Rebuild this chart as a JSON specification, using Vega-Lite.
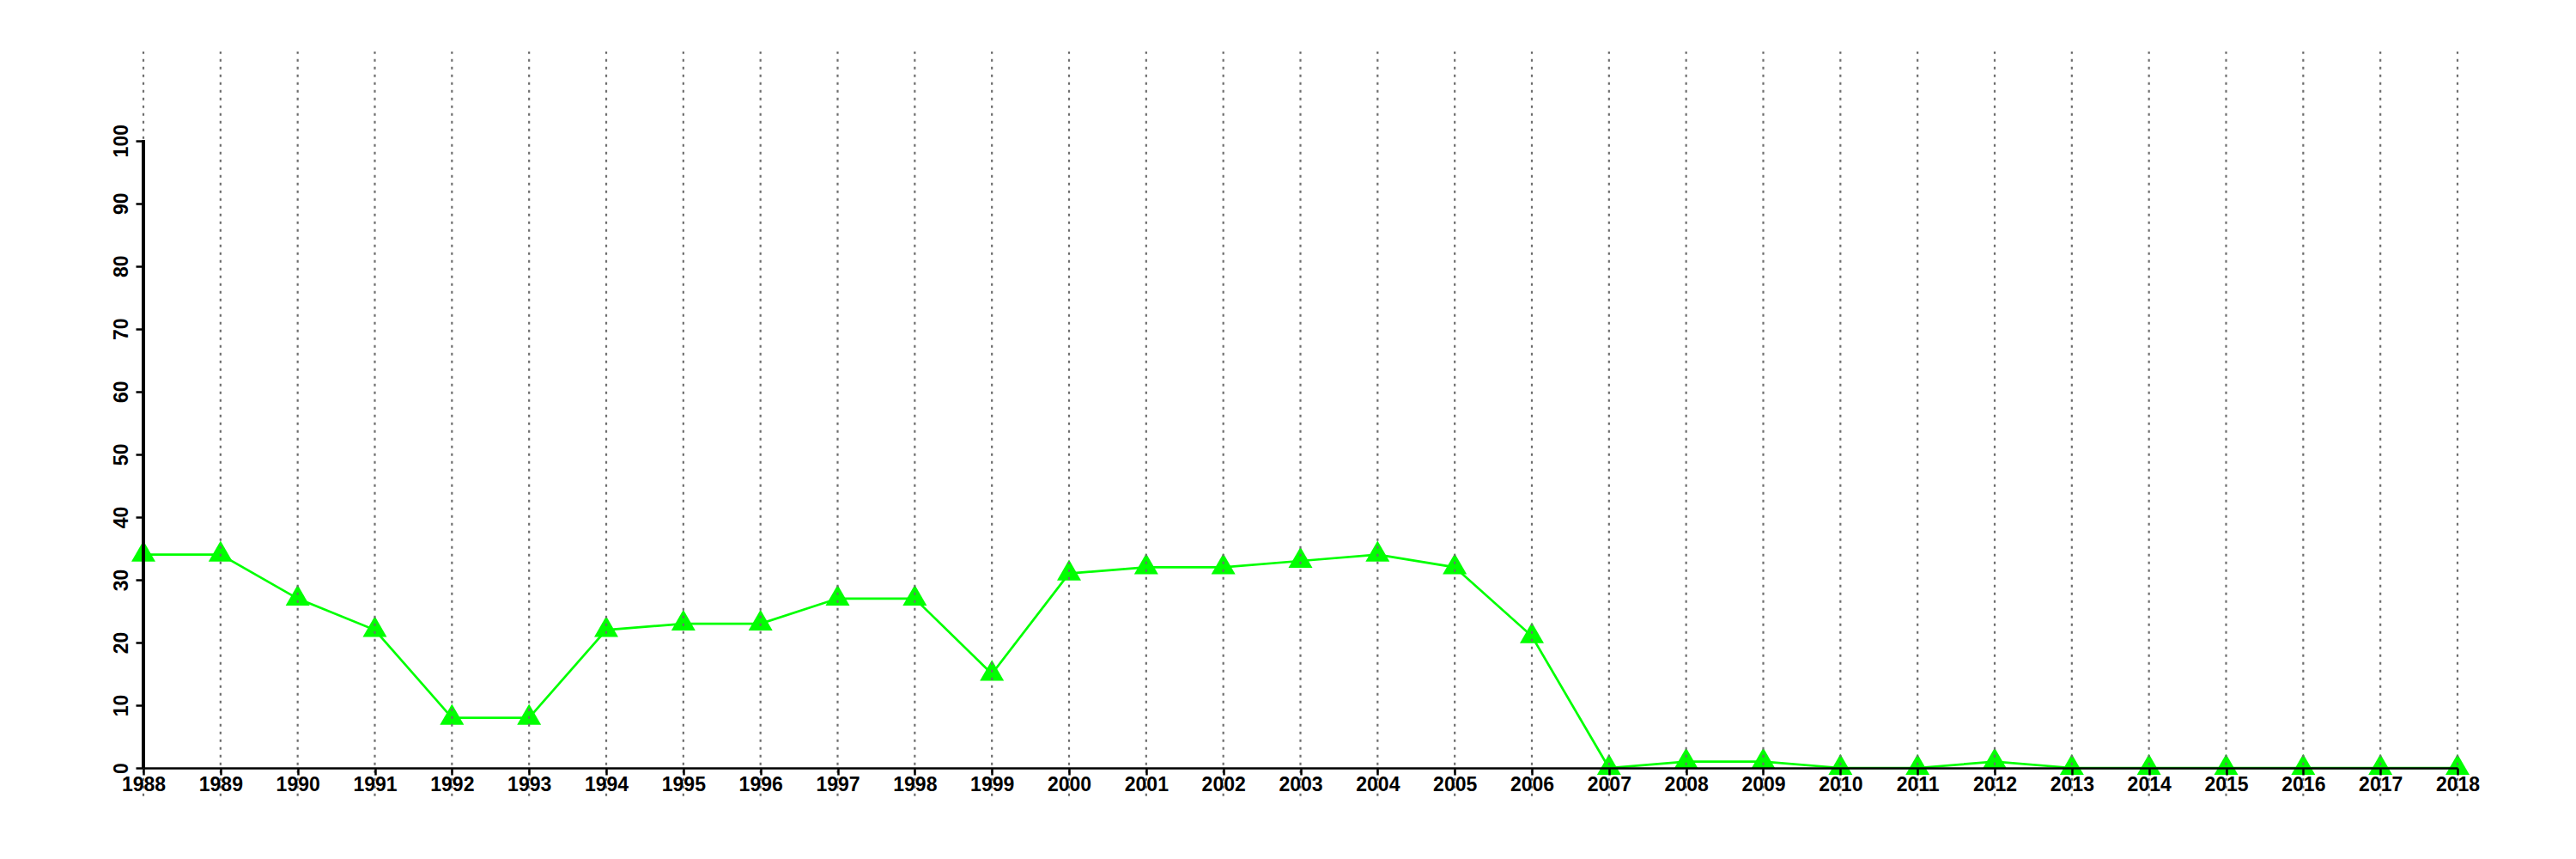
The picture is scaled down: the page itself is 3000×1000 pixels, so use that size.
{
  "$schema": "https://vega.github.io/schema/vega-lite/v6.json",
  "autosize": "none",
  "padding": {"left": 167, "top": 60, "right": 138, "bottom": 106},
  "width": 2695,
  "height": 834,
  "background": "white",
  "config": {"view": {"stroke": null}},
  "data": {"values": [
    {"year": 1988, "value": 34}, {"year": 1989, "value": 34}, {"year": 1990, "value": 27},
    {"year": 1991, "value": 22}, {"year": 1992, "value": 8}, {"year": 1993, "value": 8},
    {"year": 1994, "value": 22}, {"year": 1995, "value": 23}, {"year": 1996, "value": 23},
    {"year": 1997, "value": 27}, {"year": 1998, "value": 27}, {"year": 1999, "value": 15},
    {"year": 2000, "value": 31}, {"year": 2001, "value": 32}, {"year": 2002, "value": 32},
    {"year": 2003, "value": 33}, {"year": 2004, "value": 34}, {"year": 2005, "value": 32},
    {"year": 2006, "value": 21}, {"year": 2007, "value": 0}, {"year": 2008, "value": 1},
    {"year": 2009, "value": 1}, {"year": 2010, "value": 0}, {"year": 2011, "value": 0},
    {"year": 2012, "value": 1}, {"year": 2013, "value": 0}, {"year": 2014, "value": 0},
    {"year": 2015, "value": 0}, {"year": 2016, "value": 0}, {"year": 2017, "value": 0},
    {"year": 2018, "value": 0}
  ]},
  "encoding": {
    "x": {
      "field": "year", "type": "quantitative",
      "scale": {"domain": [1988, 2018], "nice": false, "zero": false},
      "axis": {
        "title": null, "grid": false, "values": [1988,1989,1990,1991,1992,1993,1994,1995,1996,1997,1998,1999,2000,2001,2002,2003,2004,2005,2006,2007,2008,2009,2010,2011,2012,2013,2014,2015,2016,2017,2018],
        "format": "d", "domainColor": "black", "domainWidth": 2.5, "tickColor": "black", "tickWidth": 2.5, "tickSize": 8,
        "labelFont": "Liberation Sans", "labelFontWeight": "bold", "labelFontSize": 23, "labelColor": "black",
        "labelPadding": 0, "labelOverlap": false, "labelFlush": false, "zindex": 2
      }
    },
    "y": {
      "field": "value", "type": "quantitative",
      "scale": {"domain": [0, 114.2], "nice": false, "zero": false},
      "axis": {
        "title": null, "grid": false, "domain": false, "values": [0,10,20,30,40,50,60,70,80,90,100],
        "tickColor": "black", "tickWidth": 2.5, "tickSize": 9,
        "labelFont": "Liberation Sans", "labelFontWeight": "bold", "labelFontSize": 23, "labelColor": "black",
        "labelAngle": 270, "labelAlign": "center", "labelBaseline": "bottom", "labelPadding": 5, "labelOverlap": false, "labelFlush": false, "zindex": 2
      }
    }
  },
  "layer": [
    {"mark": {"type": "line", "color": "#00ff00", "strokeWidth": 2.7}},
    {"mark": {"type": "point", "shape": "M0,-1.1547L1,0.5774L-1,0.5774Z", "filled": true, "color": "#00ff00", "opacity": 1, "size": 784}},
    {"mark": {"type": "rule", "color": "#6e6e6e", "strokeWidth": 2.2, "strokeDash": [3, 6]},
     "encoding": {"y": {"datum": -4.5}, "y2": {"datum": 114.2}}},
    {"mark": {"type": "rule", "color": "black", "strokeWidth": 2.5},
     "encoding": {"x": {"datum": 1988}, "y": {"datum": 0}, "y2": {"datum": 100}}}
  ]
}
